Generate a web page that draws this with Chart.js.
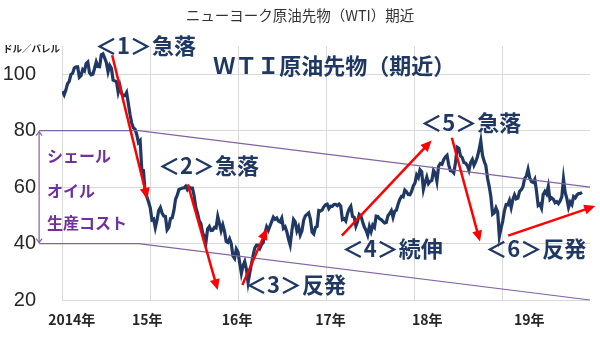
<!DOCTYPE html>
<html><head><meta charset="utf-8">
<script src="https://cdn.jsdelivr.net/npm/chart.js@4.4.1/dist/chart.umd.min.js"></script>
<style>html,body{margin:0;padding:0;background:#fff}#wrap{width:600px;height:338px}</style>
</head><body><div id="wrap"><canvas id="c" width="600" height="338"></canvas></div>
<script>
// ---- data (weekly WTI front-month, USD/bbl) ----
const firstFriday = ['2014-01-03','2015-01-02','2016-01-01','2017-01-06','2018-01-05','2019-01-04'];
const wti2014 = [93.96,92.72,94.37,96.64,97.49,99.88,100.30,102.20,102.59,102.58,98.89,99.46,101.67,101.14,103.74,104.30,100.60,99.76,99.99,102.02,104.35,102.71,102.66,106.91,107.26,105.74,104.06,100.83,103.13,102.09,97.88,97.65,97.35,93.65,95.96,93.29,92.27,92.41,93.54,89.74,85.82,82.75,81.01,80.54,78.65,75.82,76.51,66.15,65.84,57.81,56.52,54.73];
const wti2015 = [52.69,48.36,48.69,45.59,48.24,51.69,52.78,50.81,49.76,49.61,44.84,45.72,48.87,49.14,51.64,55.74,57.15,59.15,59.39,59.69,59.72,60.30,59.13,59.96,59.61,59.63,56.93,52.74,50.89,48.14,47.12,43.87,42.50,40.45,45.22,46.05,44.63,44.68,45.70,45.54,49.63,47.26,44.60,46.59,44.29,40.74,40.39,41.71,39.97,35.62,34.73,38.10];
const wti2016 = [37.04,33.16,29.42,32.19,33.62,30.89,26.21,29.64,32.78,35.92,38.50,39.44,39.46,38.34,39.72,40.36,43.73,45.92,44.66,46.21,47.75,49.33,48.62,49.07,47.98,47.64,48.99,45.41,45.95,44.19,41.60,39.50,44.49,48.52,47.64,44.44,45.88,43.03,44.48,48.24,49.81,50.35,50.85,48.70,44.07,43.41,45.69,46.06,51.68,51.50,51.90,53.02,53.72];
const wti2017 = [53.99,52.37,53.22,53.17,53.83,53.86,53.40,53.99,53.33,48.49,48.78,47.97,50.60,52.24,53.18,49.62,49.33,46.22,47.84,50.33,49.80,47.66,45.83,44.74,43.01,46.04,44.23,46.54,45.77,49.71,49.58,48.82,48.51,47.87,47.29,47.48,49.89,50.66,51.67,49.29,51.45,51.84,53.90,55.64,56.74,56.55,58.95,58.36,57.36,57.30,58.47,60.42];
const wti2018 = [61.44,64.30,63.37,66.14,65.45,59.20,61.68,63.55,61.25,62.04,62.34,65.88,64.94,62.06,67.39,68.38,68.10,69.72,70.70,71.28,67.88,65.81,65.74,65.06,68.58,74.15,73.80,71.01,70.46,68.69,68.49,67.63,65.91,68.72,69.80,67.75,68.99,70.78,73.25,76.41,71.34,69.12,67.59,63.14,60.19,56.46,50.42,50.93,52.61,51.20,42.53,45.33];
const wti2019 = [47.96,51.59,53.80,53.69,55.26,52.72,55.59,57.26,55.80,56.07,58.52,59.04,60.14,63.08,63.89,66.30,63.30,61.94,61.66,62.76,58.63,53.50,53.99,52.51,57.43,58.47,57.51,60.21,55.63,56.20,55.66,54.50,54.87,54.17,55.10,56.52,62.90,58.09,55.91,52.81,54.70,53.78,56.66,56.20,57.24,57.72,57.77,58.11];
const yearSeries = [wti2014, wti2015, wti2016, wti2017, wti2018, wti2019];

const yTicks = [20, 40, 60, 80, 100];
const xGridYears = [2014, 2015, 2016, 2017, 2018, 2019];
const xLabels = ['2014年', '15年', '16年', '17年', '18年', '19年'];
const xLabelPos = [2014.11, 2014.97, 2015.99, 2017.05, 2018.15, 2019.31];

// red trend arrows [year, price]
const arrowStart = [[2014.57,106.7],[2015.43,61.0],[2016.05,25.3],[2017.18,42.8],[2018.43,77.5],[2019.07,42.8]];
const arrowEnd   = [[2014.97,55.8],[2015.77,23.5],[2016.33,45.3],[2018.20,76.5],[2018.75,40.7],[2020.06,53.3]];
const callouts   = ['＜1＞急落','＜2＞急落','＜3＞反発','＜4＞続伸','＜5＞急落','＜6＞反発'];
const calloutPos = [[2014.375,110.2],[2015.09,67.7],[2016.08,25.6],[2017.18,38.2],[2018.07,82.8],[2018.81,38.2]];
const mainLabel = 'ＷＴＩ原油先物（期近）';
const mainLabelPos = [2015.72, 103.2];

// shale oil production-cost band
const costUpper = [[2013.74,80],[2014.87,80],[2020,60]];
const costLower = [[2013.74,40],[2014.87,40],[2020,20]];
const costText = ['シェール','オイル','生産コスト'];
const costTextPos = [[2013.83,70.9],[2013.83,58.6],[2013.83,47.4]];
const chartTitle = 'ニューヨーク原油先物（WTI）期近';
const unitLabel = 'ドル／バレル';

// ---- build points ----
function fracYear(ms){
  const d = new Date(ms); const y = d.getUTCFullYear();
  const s = Date.UTC(y,0,1), e = Date.UTC(y+1,0,1);
  return y + (ms - s) / (e - s);
}
const wtiPoints = [];
yearSeries.forEach((arr, k) => {
  const start = Date.parse(firstFriday[k] + 'T00:00:00Z');
  arr.forEach((v, i) => wtiPoints.push({x: fracYear(start + i*7*86400000), y: v}));
});
const toXY = a => a.map(p => ({x: p[0], y: p[1]}));

const NAVY = '#1F3864', RED = '#FF0000', PURPLE_T = '#7030A0', PURPLE_L = '#8064A2';
const JP = '"Noto Sans CJK JP", sans-serif';

function drawArrow(ctx, x1, y1, x2, y2, color, w, len, half){
  const a = Math.atan2(y2-y1, x2-x1);
  const bx = x2 - Math.cos(a)*len*0.8, by = y2 - Math.sin(a)*len*0.8;
  ctx.strokeStyle = color; ctx.lineWidth = w; ctx.lineCap = 'butt';
  ctx.beginPath(); ctx.moveTo(x1,y1); ctx.lineTo(bx,by); ctx.stroke();
  ctx.fillStyle = color; ctx.beginPath();
  ctx.moveTo(x2,y2);
  ctx.lineTo(x2 - Math.cos(a)*len + Math.sin(a)*half, y2 - Math.sin(a)*len - Math.cos(a)*half);
  ctx.lineTo(x2 - Math.cos(a)*len - Math.sin(a)*half, y2 - Math.sin(a)*len + Math.cos(a)*half);
  ctx.closePath(); ctx.fill();
}

const annotPlugin = {
  id: 'annot',
  afterDatasetsDraw(chart){
    const ctx = chart.ctx, xs = chart.scales.x, ys = chart.scales.y;
    const px = v => xs.getPixelForValue(v), py = v => ys.getPixelForValue(v);
    ctx.save();
    // chart title
    ctx.fillStyle = '#333333'; ctx.font = '14.5px ' + JP;
    ctx.textAlign = 'center'; ctx.textBaseline = 'middle';
    ctx.fillText(chartTitle, 300, 15);
    // unit
    ctx.textAlign = 'left'; ctx.fillStyle = '#262626'; ctx.font = 'bold 9.5px ' + JP;
    ctx.fillText(unitLabel, 3, 48);
    // cost band double arrow
    const ax = px(costUpper[0][0]), ay1 = py(costUpper[0][1]), ay2 = py(costLower[0][1]);
    ctx.strokeStyle = PURPLE_L; ctx.lineWidth = 1.2;
    ctx.beginPath(); ctx.moveTo(ax, ay1+1); ctx.lineTo(ax, ay2-1); ctx.stroke();
    ctx.beginPath();
    ctx.moveTo(ax-3, ay1+5); ctx.lineTo(ax, ay1+1); ctx.lineTo(ax+3, ay1+5);
    ctx.moveTo(ax-3, ay2-5); ctx.lineTo(ax, ay2-1); ctx.lineTo(ax+3, ay2-5);
    ctx.stroke();
    // cost text
    ctx.fillStyle = PURPLE_T; ctx.font = 'bold 16px ' + JP;
    costText.forEach((t, i) => ctx.fillText(t, px(costTextPos[i][0]), py(costTextPos[i][1])));
    // red arrows
    arrowStart.forEach((s, i) => {
      const e = arrowEnd[i];
      drawArrow(ctx, px(s[0]), py(s[1]), px(e[0]), py(e[1]), RED, 2.5, 11, 5);
    });
    // callouts
    ctx.fillStyle = NAVY; ctx.font = 'bold 22px ' + JP;
    callouts.forEach((t, i) => ctx.fillText(t, px(calloutPos[i][0]), py(calloutPos[i][1])));
    ctx.fillText(mainLabel, px(mainLabelPos[0]), py(mainLabelPos[1]));
    ctx.restore();
  }
};

new Chart(document.getElementById('c'), {
  type: 'line',
  data: {
    datasets: [
      {data: toXY(costUpper), borderColor: PURPLE_L, borderWidth: 1.2, pointRadius: 0, tension: 0, clip: false, xAxisID: 'x', yAxisID: 'y'},
      {data: toXY(costLower), borderColor: PURPLE_L, borderWidth: 1.2, pointRadius: 0, tension: 0, clip: false, xAxisID: 'x', yAxisID: 'y'},
      {data: wtiPoints, borderColor: NAVY, borderWidth: 3.2, pointRadius: 0, tension: 0, xAxisID: 'x', yAxisID: 'y'}
    ]
  },
  options: {
    responsive: false, animation: false,
    layout: {padding: {top: 46, right: 10, left: 0, bottom: 0}},
    plugins: {legend: {display: false}, tooltip: {enabled: false}, title: {display: false}},
    scales: {
      x: {
        type: 'linear', min: 2014, max: 2020, position: 'bottom',
        afterBuildTicks: s => { s.ticks = xGridYears.map(v => ({value: v})); },
        ticks: {display: false},
        grid: {color: '#D9D9D9', lineWidth: 1, drawTicks: false},
        border: {display: false},
        afterFit: s => { s.height = 0; }
      },
      xl: {
        type: 'linear', min: 2014, max: 2020, position: 'bottom',
        afterBuildTicks: s => { s.ticks = xLabelPos.map(v => ({value: v})); },
        ticks: {callback: (v, i) => xLabels[i], font: {family: JP, size: 14, weight: 'bold'}, color: '#262626', padding: 11, maxRotation: 0, autoSkip: false},
        grid: {display: false, drawTicks: false},
        border: {display: false},
        afterFit: s => { s.height = 36; }
      },
      y: {
        min: 20, max: 110,
        afterBuildTicks: s => { s.ticks = yTicks.map(v => ({value: v})); },
        ticks: {font: {family: '"Liberation Sans", sans-serif', size: 20}, color: '#262626', padding: 26},
        grid: {color: '#D9D9D9', lineWidth: 1, drawTicks: false},
        border: {color: '#D9D9D9'},
        afterFit: s => { s.width = 62; }
      }
    }
  },
  plugins: [annotPlugin]
});
</script></body></html>
